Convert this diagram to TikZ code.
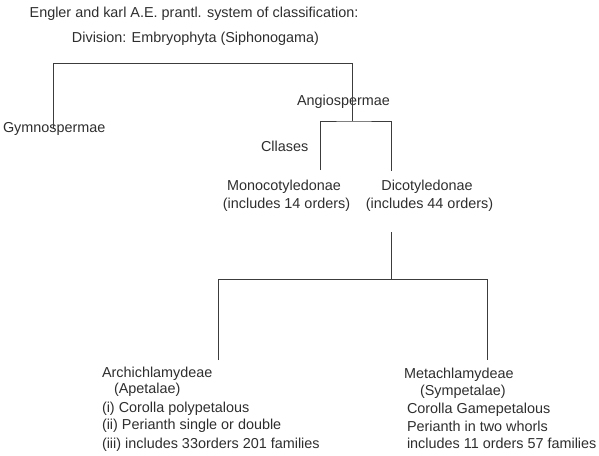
\documentclass[tikz,border=0pt]{standalone}
\usepackage{fontspec}
\setmainfont{Liberation Sans}
\definecolor{txt}{HTML}{2E2E2E}
\definecolor{ln}{HTML}{3C3C3C}
\tikzset{
  lbl/.style={inner sep=0pt, outer sep=0pt, text=txt, font=\fontsize{10.8}{13}\selectfont, anchor=base west},
  clbl/.style={lbl, anchor=base},
  conn/.style={draw=ln, line width=0.75pt}
}
\begin{document}
\begin{tikzpicture}[x=0.75pt, y=-0.75pt]
\useasboundingbox (0,0) rectangle (599,455);
% titles
\node[clbl] (title) at (194,17) {Engler and karl A.E. prantl. system of classification:};
\node[clbl] (div) at (195.5,42) {Division: Embryophyta (Siphonogama)};
% level 1
\node[lbl] (gym) at (3,132.5) {Gymnospermae};
\node[lbl] (ang) at (297,105) {Angiospermae};
\node[lbl] (cls) at (261,151) {Cllases};
% level 2
\node[clbl] (mono) at (284,190) {Monocotyledonae};
\node[clbl] (mono2) at (286.5,208) {(includes 14 orders)};
\node[clbl] (dico) at (427,190) {Dicotyledonae};
\node[clbl] (dico2) at (429.5,208) {(includes 44 orders)};
% level 3
\node[lbl] (arc1) at (102,377) {Archichlamydeae};
\node[lbl] (arc2) at (114,393) {(Apetalae)};
\node[lbl] (arc3) at (102,412) {(i) Corolla polypetalous};
\node[lbl] (arc4) at (102,429) {(ii) Perianth single or double};
\node[lbl] (arc5) at (102,448) {(iii) includes 33orders 201 families};
\node[lbl] (met1) at (404,378) {Metachlamydeae};
\node[lbl] (met2) at (420,395) {(Sympetalae)};
\node[lbl] (met3) at (407,413) {Corolla Gamepetalous};
\node[lbl] (met4) at (407,431) {Perianth in two whorls};
\node[lbl] (met5) at (407,448) {includes 11 orders 57 families};
% junction coordinates
\coordinate (gymEnd) at (53,129);
\coordinate (angTop) at (352,63);
\coordinate (angEnd) at (352,121);
\coordinate (monoEnd) at (320,170);
\coordinate (dicoEnd) at (391.5,171);
\coordinate (dicoStart) at (391.5,232);
\coordinate (dicoJoin) at (391.5,279.5);
\coordinate (arcEnd) at (218,360);
\coordinate (metEnd) at (487,360);
% connectors
\draw[conn] (gymEnd) |- (angTop) -- (angEnd);
\draw[conn] (monoEnd) |- (angEnd) -| (dicoEnd);
\draw[conn] (dicoStart) -- (dicoJoin);
\draw[conn] (arcEnd) |- (dicoJoin) -| (metEnd);
\end{tikzpicture}
\end{document}
